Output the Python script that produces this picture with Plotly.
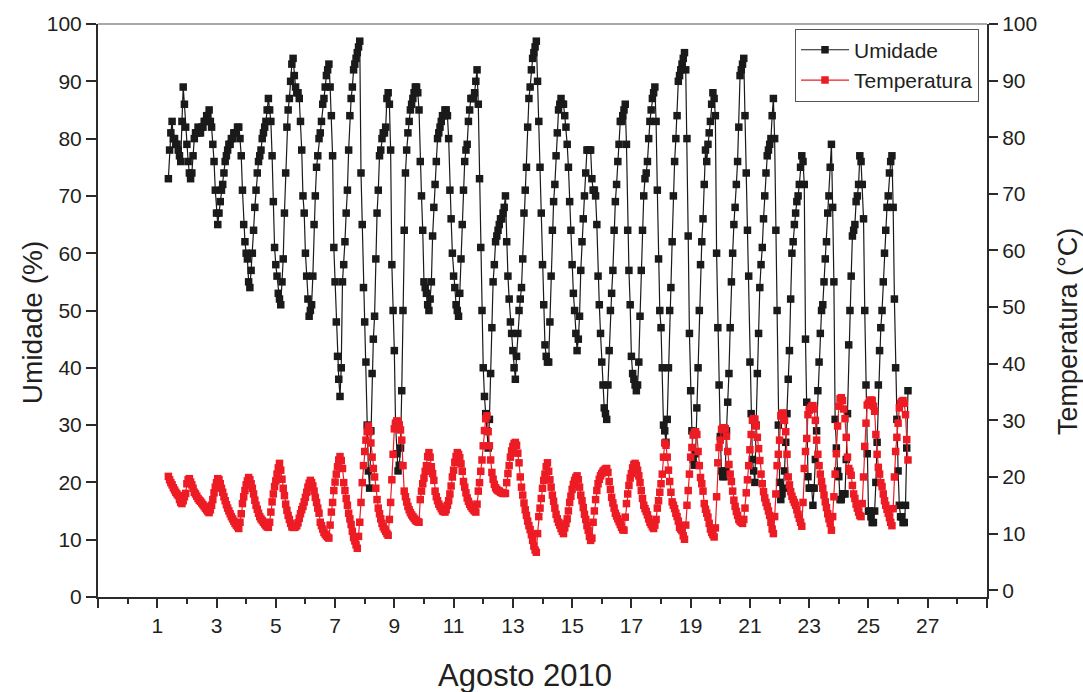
import plotly.graph_objects as go

# Hourly readings, first reading on Aug 1 at 09:00 (day value 1.375)
inicio_dia = 1.375
passo_h = 1 / 24

umidade = [
    # dia 1 (09h-23h)
    73, 78, 81, 83, 80, 80, 79, 79, 78, 77, 76, 83, 89, 86, 82,
    # dia 2
    79, 76, 74, 73, 74, 77, 80, 81, 81, 82, 81, 81, 82, 82, 83, 83, 84, 84, 85, 83, 82, 79, 76, 71,
    # dia 3
    67, 65, 67, 69, 71, 72, 74, 76, 77, 78, 79, 79, 80, 80, 81, 81, 81, 82, 82, 80, 77, 71, 65, 62,
    # dia 4
    60, 59, 55, 54, 57, 60, 64, 68, 71, 74, 76, 77, 78, 80, 81, 82, 83, 85, 87, 85, 83, 77, 69, 61,
    # dia 5
    58, 56, 53, 52, 51, 55, 59, 67, 74, 82, 85, 87, 90, 93, 94, 91, 89, 88, 88, 87, 83, 78, 70, 67,
    # dia 6
    60, 56, 52, 49, 50, 51, 56, 65, 70, 75, 77, 80, 81, 83, 86, 87, 89, 91, 92, 93, 89, 84, 77, 61,
    # dia 7
    55, 48, 42, 38, 35, 40, 55, 58, 62, 67, 71, 78, 84, 87, 89, 92, 93, 94, 95, 96, 97, 74, 65, 54,
    # dia 8
    48, 41, 30, 22, 19, 29, 39, 45, 49, 59, 67, 71, 77, 78, 80, 81, 81, 82, 87, 88, 86, 78, 58, 50,
    # dia 9
    43, 30, 25, 22, 23, 26, 36, 50, 64, 74, 78, 81, 83, 85, 86, 87, 88, 89, 89, 88, 85, 76, 70, 64,
    # dia 10
    55, 54, 53, 51, 50, 52, 55, 63, 68, 72, 76, 80, 81, 82, 83, 84, 84, 85, 85, 84, 80, 71, 66, 60,
    # dia 11
    56, 54, 51, 50, 49, 53, 59, 65, 71, 76, 78, 79, 83, 85, 87, 87, 87, 88, 90, 92, 86, 73, 61, 50,
    # dia 12
    40, 35, 32, 29, 26, 31, 39, 47, 55, 58, 62, 63, 64, 65, 66, 66, 67, 68, 70, 62, 56, 52, 48, 46,
    # dia 13
    43, 40, 38, 42, 46, 50, 52, 54, 59, 67, 71, 75, 82, 87, 89, 92, 94, 95, 96, 97, 90, 83, 75, 67,
    # dia 14
    58, 51, 44, 42, 41, 41, 48, 56, 64, 69, 72, 77, 81, 85, 86, 87, 86, 86, 84, 82, 79, 75, 69, 64,
    # dia 15
    58, 53, 50, 46, 43, 45, 49, 57, 62, 66, 70, 74, 78, 78, 78, 78, 73, 71, 71, 70, 65, 56, 51, 46,
    # dia 16
    41, 37, 33, 32, 31, 37, 43, 50, 53, 57, 64, 69, 72, 76, 79, 83, 83, 84, 85, 86, 79, 64, 57, 51,
    # dia 17
    42, 39, 38, 37, 36, 37, 41, 49, 57, 64, 70, 73, 74, 76, 80, 83, 85, 87, 88, 89, 83, 71, 59, 50,
    # dia 18
    47, 40, 30, 29, 27, 31, 40, 50, 54, 62, 70, 76, 80, 84, 90, 91, 92, 93, 94, 95, 92, 80, 63, 46,
    # dia 19
    36, 29, 24, 23, 25, 33, 40, 50, 58, 62, 66, 72, 78, 76, 79, 81, 83, 86, 88, 87, 84, 60, 47, 37,
    # dia 20
    28, 22, 21, 21, 22, 29, 34, 39, 47, 55, 60, 65, 68, 72, 76, 82, 91, 92, 93, 94, 84, 74, 64, 56,
    # dia 21
    41, 32, 24, 22, 20, 30, 39, 46, 54, 58, 61, 66, 70, 74, 77, 78, 79, 80, 84, 87, 80, 64, 50, 30,
    # dia 22
    20, 17, 18, 19, 22, 27, 32, 38, 43, 52, 60, 62, 65, 67, 69, 70, 72, 75, 77, 76, 72, 45, 34, 21,
    # dia 23
    19, 19, 19, 16, 19, 24, 29, 36, 41, 46, 50, 51, 55, 59, 62, 67, 70, 75, 79, 68, 55, 31, 26, 22,
    # dia 24
    21, 17, 17, 18, 18, 18, 24, 32, 44, 50, 56, 63, 64, 65, 69, 70, 72, 77, 76, 72, 66, 50, 37, 25,
    # dia 25
    15, 15, 14, 13, 13, 15, 20, 27, 37, 43, 47, 50, 55, 60, 64, 68, 70, 74, 76, 77, 68, 52, 40, 31,
    # dia 26 (00h-08h)
    22, 16, 14, 14, 13, 13, 16, 26, 36,
]

temperatura = [
    # dia 1 (09h-23h)
    20.1, 19.5, 19.0, 18.6, 18.1, 17.7, 17.3, 17.0, 16.7, 16.0, 15.5, 15.3, 15.8, 16.5, 17.1,
    # dia 2
    18.8, 19.5, 19.7, 19.1, 18.6, 18.0, 17.3, 17.0, 16.6, 16.2, 15.9, 15.7, 15.4, 15.1, 14.8, 14.5,
    14.2, 13.9, 13.7, 14.2, 15.0, 16.0, 17.2, 18.2,
    # dia 3
    19.0, 19.7, 19.5, 18.8, 18.0, 17.3, 16.5, 15.8, 15.1, 14.5, 14.0, 13.5, 13.0, 12.6, 12.2, 11.8,
    11.5, 11.2, 10.9, 12.0, 13.5, 15.3, 16.5, 17.6,
    # dia 4
    18.6, 19.3, 19.9, 19.5, 18.8, 18.0, 17.0, 15.9, 15.0, 14.3, 13.6, 13.0, 12.6, 12.3, 12.0, 11.7,
    11.4, 11.2, 11.1, 12.0, 13.8, 15.6, 17.0, 18.3,
    # dia 5
    19.3, 20.5, 21.6, 22.4, 21.2, 19.6, 18.0, 16.7, 15.2, 14.1, 13.2, 12.5, 11.8, 11.2, 11.1, 11.1,
    11.2, 11.4, 11.9, 12.7, 13.5, 14.2, 14.8, 15.6,
    # dia 6
    16.4, 17.3, 18.2, 18.9, 19.4, 19.0, 18.4, 17.5, 16.4, 15.5, 14.5, 13.6, 12.0, 11.4, 10.8, 10.2,
    9.9, 9.6, 9.4, 9.2, 11.5, 13.8, 15.5, 17.6,
    # dia 7
    19.1, 20.5, 21.8, 23.0, 23.6, 22.9, 21.5, 19.0, 17.6, 16.2, 15.0, 13.6, 12.6, 11.6, 10.4, 9.3,
    8.7, 8.0, 7.4, 9.5, 12.0, 15.5, 19.0, 22.0,
    # dia 8
    24.5, 26.5, 28.0, 29.0, 28.0, 26.0, 23.5, 21.5, 20.0, 18.0, 16.0, 14.5, 13.5, 12.6, 11.8, 11.2,
    10.8, 10.4, 10.0, 9.7, 12.5, 15.5, 19.5, 24.0,
    # dia 9
    28.5, 29.5, 29.9, 29.8, 29.2, 28.3, 26.5, 22.0, 17.5, 16.5, 15.6, 14.8, 14.2, 13.7, 13.3, 13.0,
    12.7, 12.4, 12.2, 12.1, 12.0, 16.0, 17.5, 18.8,
    # dia 10
    19.8, 21.0, 22.0, 23.6, 24.3, 23.5, 21.8, 20.6, 19.4, 17.5, 16.5, 15.8, 15.2, 14.8, 14.4, 14.0,
    13.9, 13.8, 14.2, 15.0, 15.8, 17.0, 18.4, 20.0,
    # dia 11
    21.2, 22.6, 23.6, 24.3, 24.0, 23.4, 22.3, 21.0, 19.2, 18.2, 17.2, 16.3, 15.7, 15.2, 14.8, 14.5,
    14.2, 14.0, 13.8, 15.2, 17.5, 19.0, 21.0, 23.0,
    # dia 12
    25.5, 28.2, 30.3, 30.8, 28.0, 25.5, 23.0, 20.8, 19.6, 18.7, 18.1, 17.8, 17.6, 17.5, 17.3, 17.2,
    17.1, 17.1, 17.1, 19.0, 20.6, 22.0, 23.5, 24.6,
    # dia 13
    25.4, 25.9, 26.1, 25.6, 24.2, 22.5, 20.0, 18.2, 16.8, 15.4, 14.2, 13.2, 12.2, 11.4, 10.7, 9.8,
    8.8, 7.8, 7.1, 6.7, 10.0, 13.0, 14.5, 16.2,
    # dia 14
    18.0, 19.4, 20.5, 21.8, 22.5, 21.0, 19.5, 18.2, 16.8, 15.7, 14.5, 13.4, 12.6, 12.0, 11.5, 10.9,
    10.4, 10.0, 11.0, 11.8, 12.6, 14.0, 15.5, 16.6,
    # dia 15
    17.8, 18.7, 19.4, 19.9, 20.2, 19.5, 18.2, 16.8, 15.8, 14.6, 13.4, 12.5, 11.4, 10.6, 9.5, 8.8,
    9.2, 12.0, 14.0, 16.0, 17.6, 18.8, 19.6, 20.2,
    # dia 16
    20.6, 21.0, 21.2, 21.4, 21.5, 20.8, 19.2, 17.8, 16.4, 15.4, 14.5, 13.6, 13.1, 12.6, 12.1, 11.6,
    11.1, 10.7, 10.6, 12.9, 15.3, 17.0, 18.5, 19.8,
    # dia 17
    20.6, 21.6, 22.2, 22.4, 22.0, 21.2, 20.2, 19.0, 17.6, 16.2, 15.0, 14.4, 13.9, 13.3, 12.6, 12.0,
    11.6, 11.2, 10.9, 11.5, 12.5, 14.5, 15.8, 17.3,
    # dia 18
    18.8, 20.5, 23.5, 26.0, 25.6, 23.5, 21.2, 19.2, 17.3, 15.6, 15.0, 14.4, 13.6, 13.0, 12.2, 11.1,
    10.8, 10.5, 9.6, 9.0, 11.5, 15.0, 17.6, 20.5,
    # dia 19
    23.5, 25.2, 27.4, 27.9, 28.0, 27.5, 24.5, 22.0, 19.9, 18.8, 17.5, 15.3, 14.3, 13.6, 12.9, 11.8,
    10.8, 10.2, 9.8, 9.4, 11.0, 16.5, 22.5, 25.2,
    # dia 20
    26.5, 28.4, 28.6, 28.7, 28.5, 27.2, 24.5, 22.2, 20.5, 19.2, 17.5, 15.9, 14.8, 13.9, 13.2, 12.5,
    12.2, 12.0, 11.8, 12.5, 14.5, 17.2, 19.5, 22.0,
    # dia 21
    24.8, 27.5, 30.0, 30.3, 30.2, 29.0, 27.0, 25.0, 22.9, 20.5, 18.8, 17.4, 16.3, 15.5, 14.8, 14.0,
    13.2, 12.0, 10.8, 10.0, 13.0, 17.0, 22.0, 24.0,
    # dia 22
    26.5, 30.8, 31.2, 31.3, 30.0, 28.0, 24.0, 20.0, 18.6, 17.4, 16.6, 16.0, 15.5, 15.0, 14.2, 13.4,
    12.7, 12.0, 11.3, 15.5, 21.5, 24.5, 26.8, 31.0,
    # dia 23
    31.8, 32.2, 32.5, 32.6, 32.0, 30.0, 26.5, 24.0, 22.0, 20.5, 19.2, 18.0, 16.8, 15.6, 14.6, 13.5,
    12.6, 11.8, 10.6, 13.0, 16.5, 20.5, 24.1, 29.0,
    # dia 24
    32.5, 33.8, 34.0, 33.5, 32.0, 30.3, 27.0, 23.5, 21.5, 21.0, 20.3, 18.5, 17.0, 16.2, 15.2, 14.5,
    13.8, 13.2, 13.0, 15.3, 20.0, 25.4, 29.5, 32.7,
    # dia 25
    33.0, 33.4, 33.6, 33.5, 32.5, 31.6, 27.5, 24.0, 21.7, 20.5, 19.0, 18.3, 17.0, 15.8, 15.0, 14.3,
    13.6, 12.8, 12.0, 11.4, 14.4, 20.0, 24.5, 27.0,
    # dia 26 (00h-08h)
    29.5, 32.2, 33.0, 33.3, 33.5, 33.0, 31.0, 26.6, 23.0,
]

x_major = list(range(-1, 30, 2))
x_labels = ["" if v in (-1, 29) else str(v) for v in x_major]
x_minor = list(range(0, 29, 2))
y_ticks = list(range(0, 101, 10))

x_umid = [inicio_dia + i * passo_h for i in range(len(umidade))]
x_temp = [inicio_dia + i * passo_h for i in range(len(temperatura))]

FONT = "Liberation Sans, Arial, sans-serif"
TXT = "#231f20"
AX = "#2b2b2b"
RED = "#ed1c24"

fig = go.Figure()
fig.add_trace(go.Scatter(
    x=x_umid, y=umidade, name="Umidade", mode="lines+markers",
    line=dict(color="#1a1a1a", width=1.2),
    marker=dict(symbol="square", size=7.5, color="#1a1a1a"),
))
fig.add_trace(go.Scatter(
    x=x_temp, y=temperatura, name="Temperatura", mode="lines+markers", yaxis="y2",
    line=dict(color=RED, width=1.2),
    marker=dict(symbol="square", size=7.5, color=RED),
))

fig.update_layout(
    width=1083, height=692,
    margin=dict(l=98, r=96, t=22, b=95),
    paper_bgcolor="white", plot_bgcolor="white",
    font=dict(family=FONT, color=TXT, size=21),
    showlegend=True,
    legend=dict(
        x=0.991, y=0.992, xanchor="right", yanchor="top",
        bgcolor="white", bordercolor="#555555", borderwidth=1,
        font=dict(size=21, family=FONT, color=TXT),
        itemwidth=48, tracegroupgap=0,
    ),
    xaxis=dict(
        range=[-1, 29], showgrid=False, zeroline=False,
        showline=True, linecolor=AX, linewidth=2,
        tickmode="array", tickvals=x_major, ticktext=x_labels,
        ticks="outside", ticklen=9, tickwidth=2, tickcolor=AX,
        tickfont=dict(size=21, family=FONT, color=TXT),
        minor=dict(tickmode="array", tickvals=x_minor, ticks="outside",
                   ticklen=5, tickwidth=2, tickcolor=AX),
    ),
    yaxis=dict(
        range=[0, 100], showgrid=False, zeroline=False,
        showline=True, linecolor=AX, linewidth=2,
        tickmode="array", tickvals=y_ticks,
        ticks="outside", ticklen=10, tickwidth=2, tickcolor=AX,
        tickfont=dict(size=21, family=FONT, color=TXT),
    ),
    yaxis2=dict(
        range=[-1.2, 100], overlaying="y", side="right",
        showgrid=False, zeroline=False,
        showline=True, linecolor=AX, linewidth=2,
        tickmode="array", tickvals=y_ticks,
        ticks="outside", ticklen=9, tickwidth=2, tickcolor=AX,
        tickfont=dict(size=21, family=FONT, color=TXT),
    ),
    shapes=[dict(type="line", xref="paper", yref="paper", x0=0, x1=1, y0=1, y1=1,
                 line=dict(color="#555555", width=1))],
    annotations=[
        dict(text="Agosto 2010", xref="paper", yref="paper", x=0.4803, y=-0.1374,
             xanchor="center", yanchor="middle", showarrow=False,
             font=dict(size=31, family=FONT, color=TXT)),
        dict(text="Umidade (%)", xref="paper", yref="paper", x=-0.0742, y=0.478,
             xanchor="center", yanchor="middle", textangle=-90, showarrow=False,
             font=dict(size=28, family=FONT, color=TXT)),
        dict(text="Temperatura (°C)", xref="paper", yref="paper", x=1.0911, y=0.464,
             xanchor="center", yanchor="middle", textangle=-90, showarrow=False,
             font=dict(size=27, family=FONT, color=TXT)),
    ],
)

fig.write_html("out.html")
